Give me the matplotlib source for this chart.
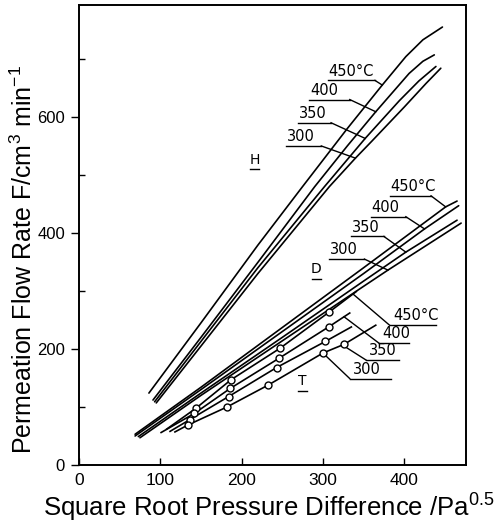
import numpy as np
import matplotlib
matplotlib.use("Agg")
import matplotlib.pyplot as plt

plt.rcParams['font.family'] = ['Liberation Sans', 'DejaVu Sans']
plt.rcParams['mathtext.fontset'] = 'custom'
plt.rcParams['mathtext.rm'] = 'Liberation Sans'
plt.rcParams['mathtext.it'] = 'Liberation Sans'

# ---------------- data ----------------
# H2 curves
H450_x = [86, 150, 220, 275, 330, 373, 402, 423, 447]
H450_y = [124, 245, 379, 480, 580, 655, 704, 733, 755]
H400_x = [91, 150, 222, 290, 330, 365, 406, 423, 437]
H400_y = [112, 220, 353, 480, 550, 609, 675, 696, 707]
H350_x = [93, 150, 220, 302, 352, 394, 418, 439]
H350_y = [109, 213, 340, 480, 563, 628, 662, 687]
H300_x = [95, 150, 220, 308, 340, 360, 400, 427, 445]
H300_y = [107, 205, 330, 480, 529, 558, 617, 658, 684]

# D2 curves
D450_x = [69, 150, 250, 350, 451, 465]
D450_y = [53, 134, 237, 340, 445, 455]
D400_x = [69, 150, 250, 350, 425, 467]
D400_y = [50, 130, 230, 330, 407, 447]
D350_x = [73, 150, 250, 350, 402, 465]
D350_y = [49, 124, 220, 317, 367, 422]
D300_x = [75, 150, 250, 350, 380, 470]
D300_y = [47, 120, 214, 308, 336, 417]

# T2 curves: fitted line ends and measured points
T450_line_x = [108, 341]
T450_line_y = [62, 299]
T450_px = [144, 187, 247, 308]
T450_py = [98, 147, 201, 264]
T400_line_x = [101, 333]
T400_line_y = [56, 262]
T400_px = [142, 186, 246, 307]
T400_py = [89, 132, 184, 238]
T350_line_x = [112, 335]
T350_line_y = [58, 238]
T350_px = [136, 184, 243, 303]
T350_py = [78, 118, 168, 213]
T300_line_x = [118, 365]
T300_line_y = [57, 241]
T300_px = [134, 182, 233, 300, 326]
T300_py = [69, 100, 138, 193, 208]

temps = ["450°C", "400", "350", "300"]

# ---------------- figure ----------------
fig = plt.figure(figsize=(5.04, 5.26), dpi=100)
ax = fig.add_axes([79/504, 61/526, (466-79)/504, (521-61)/526])
ax.set_xlim(0, 476)
ax.set_ylim(0, 793)

lw = 1.2
H = [(H450_x, H450_y), (H400_x, H400_y), (H350_x, H350_y), (H300_x, H300_y)]
D = [(D450_x, D450_y), (D400_x, D400_y), (D350_x, D350_y), (D300_x, D300_y)]
for xs, ys in H + D:
    ax.plot(xs, ys, color='black', lw=lw, solid_capstyle='round')

def tcurve(lx, ly, px, py):
    xs = [lx[0]] + list(px) + [lx[1]]
    ys = [ly[0]] + list(py) + [ly[1]]
    return xs, ys

T = [tcurve(T450_line_x, T450_line_y, T450_px, T450_py),
     tcurve(T400_line_x, T400_line_y, T400_px, T400_py),
     tcurve(T350_line_x, T350_line_y, T350_px, T350_py),
     tcurve(T300_line_x, T300_line_y, T300_px, T300_py)]
for xs, ys in T:
    ax.plot(xs, ys, color='black', lw=lw)
for px, py in [(T450_px, T450_py), (T400_px, T400_py), (T350_px, T350_py), (T300_px, T300_py)]:
    ax.plot(px, py, 'o', ms=5, mfc='white', mec='black', mew=1.0, zorder=5)

def at(curve, x):
    return float(np.interp(x, curve[0], curve[1]))

fs_lab = 10.5
H_lab = [(temps[0], 306, 364, 663, H[0], 373),
         (temps[1], 283, 333, 630, H[1], 365),
         (temps[2], 269, 310, 590, H[2], 352),
         (temps[3], 255, 298, 550, H[3], 340)]
D_lab = [(temps[0], 382, 433, 464, D[0], 451),
         (temps[1], 359, 402, 428, D[1], 425),
         (temps[2], 335, 375, 394, D[2], 402),
         (temps[3], 308, 351, 355, D[3], 380)]
for txt, x0, x1, y, cur, tx in H_lab + D_lab:
    ax.plot([x0, x1], [y, y], color='black', lw=1.0)
    ax.plot([x1, tx], [y, at(cur, tx)], color='black', lw=1.0)
    ax.text(x0 + 1, y + 3, txt, fontsize=fs_lab, ha='left', va='bottom', family='DejaVu Sans')

T_lab = [(temps[0], 382, 439, 241, T[0], 337),
         (temps[1], 369, 406, 210, T[1], 326),
         (temps[2], 353, 394, 181, T[3], 324),
         (temps[3], 333, 384, 149, T[3], 300)]
for txt, x0, x1, y, cur, tx in T_lab:
    ax.plot([x0, x1], [y, y], color='black', lw=1.0)
    ax.plot([tx, x0], [at(cur, tx), y], color='black', lw=1.0)
    ax.text(x0 + 4, y + 3, txt, fontsize=fs_lab, ha='left', va='bottom', family='DejaVu Sans')

for txt, x, y in [("H", 216, 514), ("D", 292, 325), ("T", 275, 132)]:
    ax.text(x, y, txt, fontsize=10, ha='center', va='bottom', family='DejaVu Sans')
    ax.plot([x - 6, x + 6], [y - 4, y - 4], color='black', lw=1.0)

# axes styling
for s in ax.spines.values():
    s.set_linewidth(1.4)
ax.set_xticks([0, 100, 200, 300, 400])
ax.set_yticks([0, 200, 400, 600])
ax.set_yticks([100, 300, 500, 700], minor=True)
ax.tick_params(axis='x', direction='in', length=5, width=1.0, labelsize=12.5, pad=6)
ax.tick_params(axis='y', which='major', direction='out', length=6, width=1.0, labelsize=12, pad=4)
ax.tick_params(axis='y', which='minor', direction='in', length=4, width=1.0)

ax.set_xlabel("Square Root Pressure Difference /Pa$^{0.5}$", fontsize=18.5)
ax.set_ylabel("Permeation Flow Rate F/cm$^{3}$ min$^{-1}$", fontsize=18)
ax.xaxis.set_label_coords(0.49, -0.058)
ax.yaxis.set_label_coords(-0.108, 0.446)

fig.savefig("out.png", dpi=100)
